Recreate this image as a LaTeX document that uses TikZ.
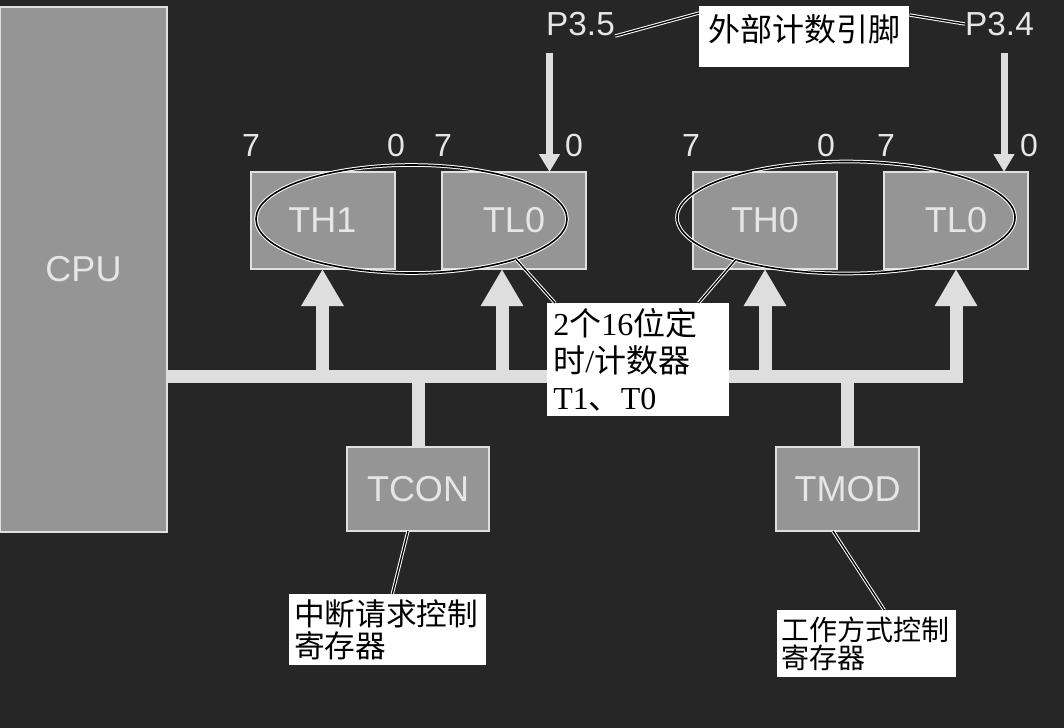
\documentclass[tikz,border=0pt]{standalone}
\usepackage{fontspec}
\setmainfont{Liberation Serif}
\setsansfont{Liberation Sans}
\newfontfamily\cjk{Noto Sans CJK SC}
\usetikzlibrary{shapes.geometric,arrows.meta,calc}
\definecolor{bgc}{HTML}{262626}
\definecolor{boxc}{HTML}{959595}
\definecolor{edgec}{HTML}{E0E0E0}
\definecolor{txtc}{HTML}{E6E6E6}
\definecolor{arrc}{HTML}{DEDEDE}
\begin{document}
\begin{tikzpicture}[x=0.75pt,y=-0.75pt,
 boxn/.style={draw=edgec, line width=1.5pt, fill=boxc, text=txtc, font=\sffamily\fontsize{27}{32}\selectfont, inner sep=0pt, outer sep=0pt},
 busline/.style={draw=arrc, line width=9.75pt},
 uparr/.style={draw=arrc, fill=arrc, line width=9.75pt, -{Triangle[width=30pt,length=27.75pt]}},
 inarr/.style={draw=arrc, fill=arrc, line width=5.25pt, -{Triangle[width=15pt,length=13.5pt]}},
 dbl/.style={draw=white, double=black, line width=0.75pt, double distance=1pt},
 ell/.style={ellipse, draw=white, double=black, line width=0.75pt, double distance=1.2pt, inner sep=0pt, outer sep=0pt},
 numlbl/.style={text=txtc, font=\sffamily\fontsize{24}{28}\selectfont, inner sep=0pt},
 pinlbl/.style={text=txtc, font=\sffamily\fontsize{25}{30}\selectfont, inner sep=0pt},
 lbl/.style={fill=white, text=black, inner ysep=0pt, anchor=north west, align=left}
]
\fill[bgc] (0,0) rectangle (1064,728);
\useasboundingbox (0,0) rectangle (1064,728);

% boxes
\node[boxn, minimum width=125.25pt, minimum height=393.75pt] (cpu) at (83.5,269.5) {CPU};
\node[boxn, minimum width=108pt, minimum height=72.75pt] (TH1) at (322.5,220.5) {TH1};
\node[boxn, minimum width=108pt, minimum height=72.75pt] (TLa) at (514,220.5) {TL0};
\node[boxn, minimum width=108pt, minimum height=72.75pt] (TH0) at (765,220.5) {TH0};
\node[boxn, minimum width=108pt, minimum height=72.75pt] (TLb) at (956,220.5) {TL0};
\node[boxn, minimum width=106.5pt, minimum height=63pt] (TCON) at (418,489) {TCON};
\node[boxn, minimum width=107.25pt, minimum height=63pt] (TMOD) at (847.5,489) {TMOD};

% bus
\coordinate (busY) at (0,376);
\coordinate (busR) at (962.5,376);
\draw[busline] (cpu.east |- busY) -- (busR);
\draw[uparr] (TH1.south |- busY) -- (TH1.south);
\coordinate (a2) at ($(TLa.south)+(-12,0)$);
\draw[uparr] (a2 |- busY) -- (a2);
\draw[uparr] (TH0.south |- busY) -- (TH0.south);
\draw[uparr] (TLb.south |- busY) -- (TLb.south);
\draw[busline] (TCON.north |- busY) -- (TCON.north);
\draw[busline] (TMOD.north |- busY) -- (TMOD.north);

% pins
\node[pinlbl] (P35) at (580.5,24) {P3.5};
\node[pinlbl] (P34) at (999.5,24) {P3.4};
\coordinate (in1) at (549.5,53);
\coordinate (in2) at (1004,53);
\draw[inarr] (in1) -- (in1 |- TLa.north);
\draw[inarr] (in2) -- (in2 |- TLb.north);

% bit numbers
\node[numlbl] (n1) at (251,145) {7};
\node[numlbl] (n2) at (396,145) {0};
\node[numlbl] (n3) at (443,145) {7};
\node[numlbl] (n4) at (574,145) {0};
\node[numlbl] (n5) at (691,145) {7};
\node[numlbl] (n6) at (826,145) {0};
\node[numlbl] (n7) at (886,145) {7};
\node[numlbl] (n8) at (1029,145) {0};

% ellipses
\node[ell, minimum width=233.25pt, minimum height=81pt] (E1) at (411.5,219) {};
\node[ell, minimum width=253.5pt, minimum height=84pt] (E2) at (846,217.5) {};

% labels
\node[lbl, inner xsep=5.25pt, text height=26.25pt, text depth=19.5pt, minimum width=157.5pt,
      font=\cjk\fontsize{24}{28}\selectfont] (top) at (699,6) {外部计数引脚};
\node[lbl, inner xsep=4.5pt, text width=127.5pt, minimum height=84.75pt,
      font=\fontsize{24}{27.5}\selectfont] (mid) at (547,303)
      {2{\cjk 个}16{\cjk 位定}\\{\cjk 时}/{\cjk 计数器}\\T1{\cjk 、}T0};
\node[lbl, inner xsep=3.75pt, text width=140.25pt, minimum height=53.25pt,
      font=\cjk\fontsize{23}{23.5}\selectfont] (lab1) at (289,594) {中断请求控制\\寄存器};
\node[lbl, inner xsep=3pt, text width=128.25pt, minimum height=50.25pt,
      font=\cjk\fontsize{21}{21}\selectfont] (lab2) at (777,610) {工作方式控制\\寄存器};

% connectors
\draw[dbl] ($(top.north west)+(0,7)$) -- (P35.south east);
\draw[dbl] ($(top.north east)+(0,9)$) -- (P34.west);
\draw[dbl] ($(mid.north west)+(8,0)$) -- (E1.-21);
\draw[dbl] ($(mid.north east)+(-31,0)$) -- (E2.201);
\draw[dbl] ($(TCON.south)+(-10,0)$) -- ($(lab1.north)+(4.5,0)$);
\draw[dbl] ($(TMOD.south)+(-14.5,0)$) -- ($(lab2.north)+(17.5,0)$);
\end{tikzpicture}
\end{document}
